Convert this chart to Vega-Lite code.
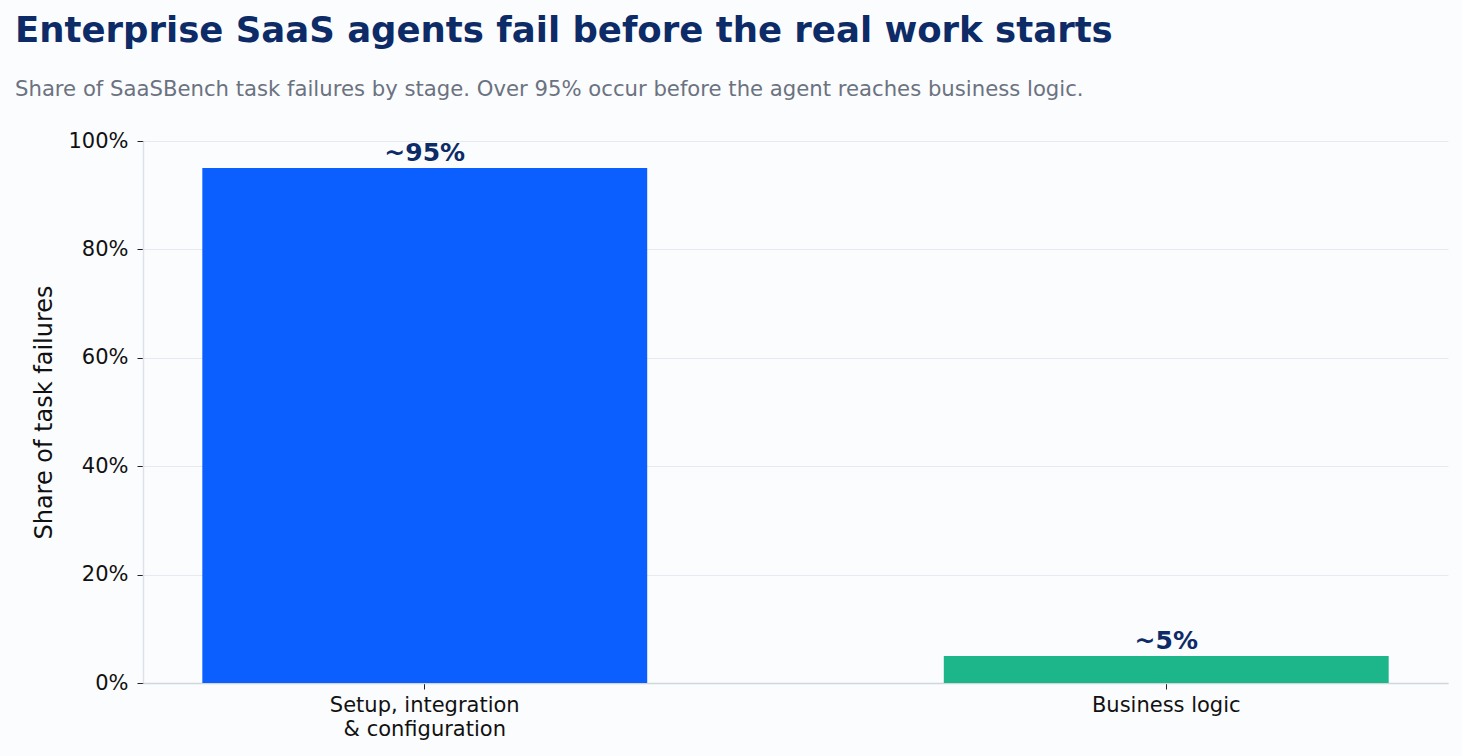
{
  "$schema": "https://vega.github.io/schema/vega-lite/v6.json",
  "width": 1305,
  "height": 542,
  "autosize": {"type": "none"},
  "padding": {"left": 143, "top": 141, "right": 14, "bottom": 73},
  "background": "#fbfcfe",
  "title": {
    "text": "Enterprise SaaS agents fail before the real work starts",
    "subtitle": "Share of SaaSBench task failures by stage. Over 95% occur before the agent reaches business logic.",
    "anchor": "start",
    "frame": "group",
    "dx": -128,
    "offset": 30,
    "font": "DejaVu Sans",
    "fontSize": 35.5,
    "fontWeight": "bold",
    "color": "#0d2b66",
    "subtitleFont": "DejaVu Sans",
    "subtitleFontSize": 21.2,
    "subtitleColor": "#6b7280",
    "subtitlePadding": 29
  },
  "data": {
    "values": [
      {"stage": "Setup, integration & configuration", "share": 95, "label": "~95%"},
      {"stage": "Business logic", "share": 5, "label": "~5%"}
    ]
  },
  "encoding": {
    "x": {
      "field": "stage",
      "type": "nominal",
      "sort": null,
      "scale": {"paddingInner": 0.4, "paddingOuter": 0.08},
      "axis": {
        "title": null,
        "labelAngle": 0,
        "labelFont": "DejaVu Sans",
        "labelFontSize": 21,
        "labelColor": "#111111",
        "labelPadding": 5,
        "labelLineHeight": 24,
        "labelLimit": 500,
        "labelExpr": "datum.label == 'Setup, integration & configuration' ? ['Setup, integration', '& configuration'] : datum.label",
        "domainColor": "#d0d5de",
        "domainWidth": 1.5,
        "tickColor": "#222222",
        "tickSize": 6,
        "grid": false
      }
    },
    "y": {
      "field": "share",
      "type": "quantitative",
      "scale": {"domain": [0, 100]},
      "axis": {
        "title": "Share of task failures",
        "titleFont": "DejaVu Sans",
        "titleFontSize": 24,
        "titleFontWeight": "normal",
        "titleColor": "#111111",
        "titlePadding": 11,
        "values": [0, 20, 40, 60, 80, 100],
        "labelExpr": "datum.value + '%'",
        "labelFont": "DejaVu Sans",
        "labelFontSize": 21,
        "labelColor": "#111111",
        "labelPadding": 9,
        "domainColor": "#dde2ea",
        "domainWidth": 1.5,
        "tickColor": "#222222",
        "tickSize": 6,
        "gridColor": "#e6e9ef",
        "gridWidth": 1.2
      }
    }
  },
  "layer": [
    {
      "mark": {"type": "bar"},
      "encoding": {
        "color": {
          "field": "stage",
          "type": "nominal",
          "legend": null,
          "scale": {
            "domain": ["Setup, integration & configuration", "Business logic"],
            "range": ["#0b5fff", "#1db58a"]
          }
        }
      }
    },
    {
      "mark": {
        "type": "text",
        "baseline": "alphabetic",
        "dy": -7,
        "font": "DejaVu Sans",
        "fontSize": 25,
        "fontWeight": "bold",
        "color": "#0d2b66"
      },
      "encoding": {
        "text": {"field": "label"}
      }
    }
  ],
  "config": {
    "view": {"stroke": null}
  }
}
